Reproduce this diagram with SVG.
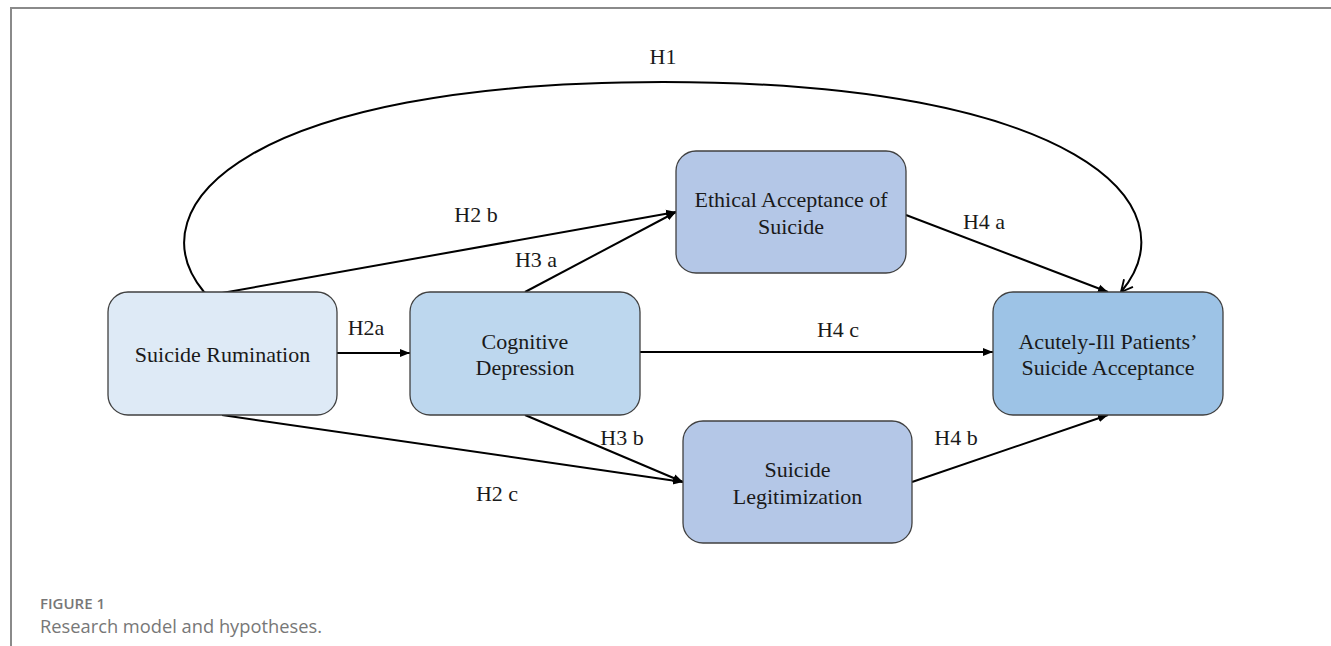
<svg xmlns="http://www.w3.org/2000/svg" width="1331" height="646" viewBox="0 0 1331 646">
<style>
.node{stroke:#404040;stroke-width:1.3}
.t{font-family:'Liberation Serif','Tinos','DejaVu Serif','Times New Roman',serif;font-size:22px;fill:#1a1a1a;text-anchor:middle}
.c{fill:none;stroke:#000;stroke-width:2}
.cap{font-family:'Open Sans','Noto Sans',sans-serif;fill:#777}
</style>
<defs>
<marker id="a" viewBox="0 0 10 10" refX="10" refY="5" markerWidth="5" markerHeight="5" orient="auto" markerUnits="strokeWidth"><path d="M0,1 L10,5 L0,9 Z" fill="#000"/></marker>
<marker id="v" viewBox="0 0 12 12" refX="11" refY="6" markerWidth="7" markerHeight="7" orient="auto" markerUnits="strokeWidth"><path d="M1,1 L11,6 L1,11" fill="none" stroke="#000" stroke-width="1.6"/></marker>
</defs>
<rect width="1331" height="646" fill="#fff"/>
<path d="M11,646 L11,8 L1331,8" fill="none" stroke="#8a8a8a" stroke-width="2"/>
<g id="connectors">
<path class="c" d="M204,292 C132,205 250,82 663,82 C1076,82 1194,205 1121,292" marker-start="url(#v)" marker-end="url(#v)"/>
<line class="c" x1="222" y1="293" x2="676" y2="212" marker-end="url(#a)"/>
<line class="c" x1="525" y1="292" x2="676" y2="212" marker-end="url(#a)"/>
<line class="c" x1="906" y1="215" x2="1108" y2="292" marker-end="url(#a)"/>
<line class="c" x1="337" y1="353" x2="410" y2="353" marker-end="url(#a)"/>
<line class="c" x1="640" y1="352" x2="993" y2="352" marker-end="url(#a)"/>
<line class="c" x1="222" y1="415" x2="683" y2="482" marker-end="url(#a)"/>
<line class="c" x1="525" y1="415" x2="683" y2="482" marker-end="url(#a)"/>
<line class="c" x1="912" y1="482" x2="1108" y2="415" marker-end="url(#a)"/>
</g>
<g id="labels">
<text class="t" x="663" y="64">H1</text>
<text class="t" x="476" y="222">H2 b</text>
<text class="t" x="536" y="267">H3 a</text>
<text class="t" x="984" y="229">H4 a</text>
<text class="t" x="366" y="335">H2a</text>
<text class="t" x="838" y="337">H4 c</text>
<text class="t" x="622" y="445">H3 b</text>
<text class="t" x="956" y="445">H4 b</text>
<text class="t" x="497" y="501">H2 c</text>
</g>
<g id="rumination">
<rect class="node" x="108" y="292" width="229" height="123" rx="20" fill="#deeaf6"/>
<text class="t" x="222.5" y="362">Suicide Rumination</text>
</g>
<g id="cognitive">
<rect class="node" x="410" y="292" width="230" height="123" rx="20" fill="#bdd7ee"/>
<text class="t" x="525" y="349">Cognitive</text>
<text class="t" x="525" y="375">Depression</text>
</g>
<g id="ethical">
<rect class="node" x="676" y="151" width="230" height="122" rx="20" fill="#b4c7e7"/>
<text class="t" x="791" y="207">Ethical Acceptance of</text>
<text class="t" x="791" y="234">Suicide</text>
</g>
<g id="acceptance">
<rect class="node" x="993" y="292" width="230" height="123" rx="20" fill="#9dc3e6"/>
<text class="t" x="1108" y="349">Acutely-Ill Patients’</text>
<text class="t" x="1108" y="375">Suicide Acceptance</text>
</g>
<g id="legitimization">
<rect class="node" x="683" y="421" width="229" height="122" rx="20" fill="#b4c7e7"/>
<text class="t" x="797.5" y="477">Suicide</text>
<text class="t" x="797.5" y="504">Legitimization</text>
</g>
<text class="cap" x="40" y="609" font-size="15" font-weight="600">FIGURE 1</text>
<text class="cap" x="40" y="633" font-size="18.3">Research model and hypotheses.</text>
</svg>
